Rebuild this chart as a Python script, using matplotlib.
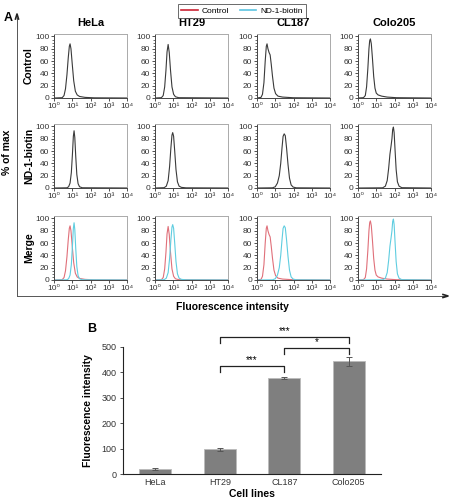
import matplotlib
matplotlib.use('Agg')
import matplotlib.pyplot as plt
from matplotlib.lines import Line2D
from matplotlib.ticker import LogLocator, MultipleLocator, FixedLocator
import numpy as np

plt.rcParams['font.family'] = ['Liberation Sans', 'DejaVu Sans']

# cell lines
cells = ['HeLa', 'HT29', 'CL187', 'Colo205']

# histogram curves, x as log10(intensity), y as % of max
ctrl_lx = {
    'HeLa': [0, 0.45, 0.55, 0.63, 0.71, 0.78, 0.84, 0.88, 0.93, 1.0, 1.08, 1.17, 1.27, 1.4, 1.7, 2.2, 4.0],
    'HT29': [0, 0.35, 0.45, 0.53, 0.6, 0.66, 0.72, 0.78, 0.85, 0.93, 1.02, 1.12, 1.3, 4.0],
    'CL187': [0, 0.22, 0.3, 0.38, 0.45, 0.51, 0.55, 0.6, 0.66, 0.72, 0.78, 0.85, 0.93, 1.02, 1.15, 1.4, 2.0, 4.0],
    'Colo205': [0, 0.3, 0.4, 0.47, 0.54, 0.6, 0.64, 0.68, 0.73, 0.79, 0.86, 0.93, 1.0, 1.1, 1.3, 1.6, 2.1, 4.0],
}
ctrl_y = {
    'HeLa': [0, 0.5, 4, 15, 38, 65, 84, 88, 80, 55, 28, 11, 5, 2.5, 1, 0.3, 0],
    'HT29': [0, 0.5, 4, 18, 45, 75, 87, 74, 45, 18, 6, 2, 0.5, 0],
    'CL187': [0, 1, 6, 25, 60, 84, 88, 80, 74, 70, 55, 35, 16, 7, 3, 1.5, 0.4, 0],
    'Colo205': [0, 0.5, 4, 18, 48, 80, 93, 96, 88, 65, 35, 16, 8, 5, 3, 1.5, 0.5, 0],
}
nd_lx = {
    'HeLa': [0, 0.7, 0.8, 0.88, 0.95, 1.01, 1.06, 1.1, 1.14, 1.19, 1.25, 1.32, 1.4, 1.55, 4.0],
    'HT29': [0, 0.5, 0.62, 0.72, 0.8, 0.87, 0.93, 0.97, 1.02, 1.08, 1.15, 1.23, 1.32, 1.45, 1.7, 4.0],
    'CL187': [0, 0.85, 1.0, 1.12, 1.22, 1.3, 1.37, 1.43, 1.49, 1.55, 1.62, 1.7, 1.78, 1.87, 1.98, 2.15, 4.0],
    'Colo205': [0, 1.35, 1.5, 1.6, 1.68, 1.75, 1.81, 1.86, 1.9, 1.94, 1.98, 2.03, 2.09, 2.16, 2.25, 2.4, 4.0],
}
nd_y = {
    'HeLa': [0, 0.3, 2, 8, 25, 55, 84, 93, 82, 52, 22, 7, 2, 0.4, 0],
    'HT29': [0, 0.5, 3, 12, 35, 65, 86, 90, 84, 60, 30, 10, 3, 1, 0.3, 0],
    'CL187': [0, 0.3, 2, 8, 20, 40, 65, 84, 88, 85, 65, 38, 16, 5, 1.5, 0.3, 0],
    'Colo205': [0, 0.3, 3, 12, 32, 55, 68, 80, 95, 99, 90, 62, 30, 10, 3, 0.5, 0],
}
x_ticklabels = ['10⁰', '10¹', '10²', '10³', '10⁴']

# bar chart (panel B)
bar_vals = [18, 97, 378, 443]
bar_err = [4, 5, 5, 18]
brackets = [(1, 2, 425, '***'), (1, 3, 539, '***'), (2, 3, 496, '*')]

W, H = 449, 500
fig = plt.figure(figsize=(W / 100, H / 100), dpi=100)

def px_axes(left, top, w, h):
    return fig.add_axes([left / W, 1 - (top + h) / H, w / W, h / H])

col_left = [54, 155, 257, 358]
row_top = [34, 124, 216]
row_labels = ['Control', 'ND-1-biotin', 'Merge']
dark = '#3a3a3a'
red_m = '#e0707a'
cyan_m = '#5fcde0'

for r in range(3):
    for c, cell in enumerate(cells):
        ax = px_axes(col_left[c], row_top[r], 73, 64)
        cx = 10 ** np.array(ctrl_lx[cell])
        nx = 10 ** np.array(nd_lx[cell])
        if r == 0:
            ax.plot(cx, ctrl_y[cell], color=dark, lw=0.8)
        elif r == 1:
            ax.plot(nx, nd_y[cell], color=dark, lw=0.8)
        else:
            ax.plot(cx, ctrl_y[cell], color=red_m, lw=0.8)
            ax.plot(nx, nd_y[cell], color=cyan_m, lw=0.8)
        ax.set_xscale('log')
        ax.set_xlim(1, 1e4)
        ax.set_ylim(0, 104)
        ax.xaxis.set_major_locator(FixedLocator([1, 10, 100, 1000, 10000]))
        ax.xaxis.set_minor_locator(LogLocator(base=10, subs=np.arange(2, 10)))
        ax.set_xticklabels(x_ticklabels)
        ax.yaxis.set_major_locator(MultipleLocator(20))
        ax.yaxis.set_minor_locator(MultipleLocator(5))
        ax.tick_params(labelsize=6, length=2.5, width=0.6, pad=1, colors='#333333')
        ax.tick_params(which='minor', length=1.2, width=0.4)
        ax.xaxis.set_tick_params(which='minor', labelbottom=False)
        for s in ['left', 'bottom']:
            ax.spines[s].set_linewidth(0.7)
            ax.spines[s].set_color('#444444')
        for s in ['top', 'right']:
            ax.spines[s].set_linewidth(0.7)
            ax.spines[s].set_color('#aaaaaa')
        if r == 0:
            ax.set_title(cell, fontsize=8, fontweight='bold', pad=6)
        if c == 0:
            fig.text(29 / W, 1 - (row_top[r] + 32) / H, row_labels[r], rotation=90,
                     ha='center', va='center', fontsize=7.5, fontweight='bold')

# outer frame with arrows for panel A
fig.add_artist(Line2D([17 / W, 17 / W], [1 - 296 / H, 1 - 18 / H], color='#555555', lw=0.7))
fig.add_artist(Line2D([17 / W, 444 / W], [1 - 296 / H, 1 - 296 / H], color='#555555', lw=0.7))
fig.add_artist(Line2D([15.5 / W, 17 / W, 18.5 / W], [1 - 19 / H, 1 - 14 / H, 1 - 19 / H],
                      color='#222222', lw=1.2))
fig.add_artist(Line2D([443 / W, 448 / W, 443 / W], [1 - 294.5 / H, 1 - 296 / H, 1 - 297.5 / H],
                      color='#222222', lw=1.2))
fig.text(4 / W, 1 - 18 / H, 'A', fontsize=9, fontweight='bold', ha='left', va='center')
fig.text(7 / W, 1 - 152 / H, '% of max', rotation=90, fontsize=7.5, fontweight='bold',
         ha='center', va='center')
fig.text(232 / W, 1 - 307 / H, 'Fluorescence intensity', fontsize=7.5, fontweight='bold',
         ha='center', va='center')

handles = [Line2D([], [], color='#cc2233', lw=1.2), Line2D([], [], color='#5bc3e0', lw=1.2)]
leg = fig.legend(handles, ['Control', 'ND-1-biotin'], loc='upper center',
                 bbox_to_anchor=(242 / W, 1.0), ncol=2, fontsize=6, frameon=True,
                 fancybox=False, handlelength=2.0, columnspacing=1.2, borderpad=0.35,
                 handletextpad=0.5)
leg.get_frame().set_edgecolor('#444444')
leg.get_frame().set_linewidth(0.7)

# panel B
axb = px_axes(123, 347, 258, 127)
xpos = np.arange(len(cells))
axb.bar(xpos, bar_vals, width=0.49, color='#7f7f7f', edgecolor='#bbbbbb', linewidth=0.6,
        yerr=bar_err, error_kw=dict(ecolor='#555555', elinewidth=0.7, capsize=2, capthick=0.7))
axb.set_xlim(-0.5, 3.5)
axb.set_ylim(0, 500)
axb.set_xticks(xpos)
axb.set_xticklabels(cells)
axb.yaxis.set_major_locator(MultipleLocator(100))
axb.tick_params(labelsize=6.5, length=2.5, width=0.6, pad=2, colors='#333333')
axb.tick_params(axis='x', length=0, pad=3)
for s in ['top', 'right']:
    axb.spines[s].set_visible(False)
for s in ['left', 'bottom']:
    axb.spines[s].set_linewidth(0.8)
    axb.spines[s].set_color('#222222')
axb.set_ylabel('Fluorescence intensity', fontsize=7.5, fontweight='bold', labelpad=6)
axb.set_xlabel('Cell lines', fontsize=7.5, fontweight='bold', labelpad=1)

for i, j, yb, lab in brackets:
    axb.plot([i, i, j, j], [yb - 22, yb, yb, yb - 22], color='#222222', lw=0.9, clip_on=False)
    axb.text((i + j) / 2, yb + 3, lab, ha='center', va='bottom', fontsize=7, clip_on=False)

fig.text(92 / W, 1 - 329 / H, 'B', fontsize=9, fontweight='bold', ha='center', va='center')

fig.savefig('out.png', dpi=100)
